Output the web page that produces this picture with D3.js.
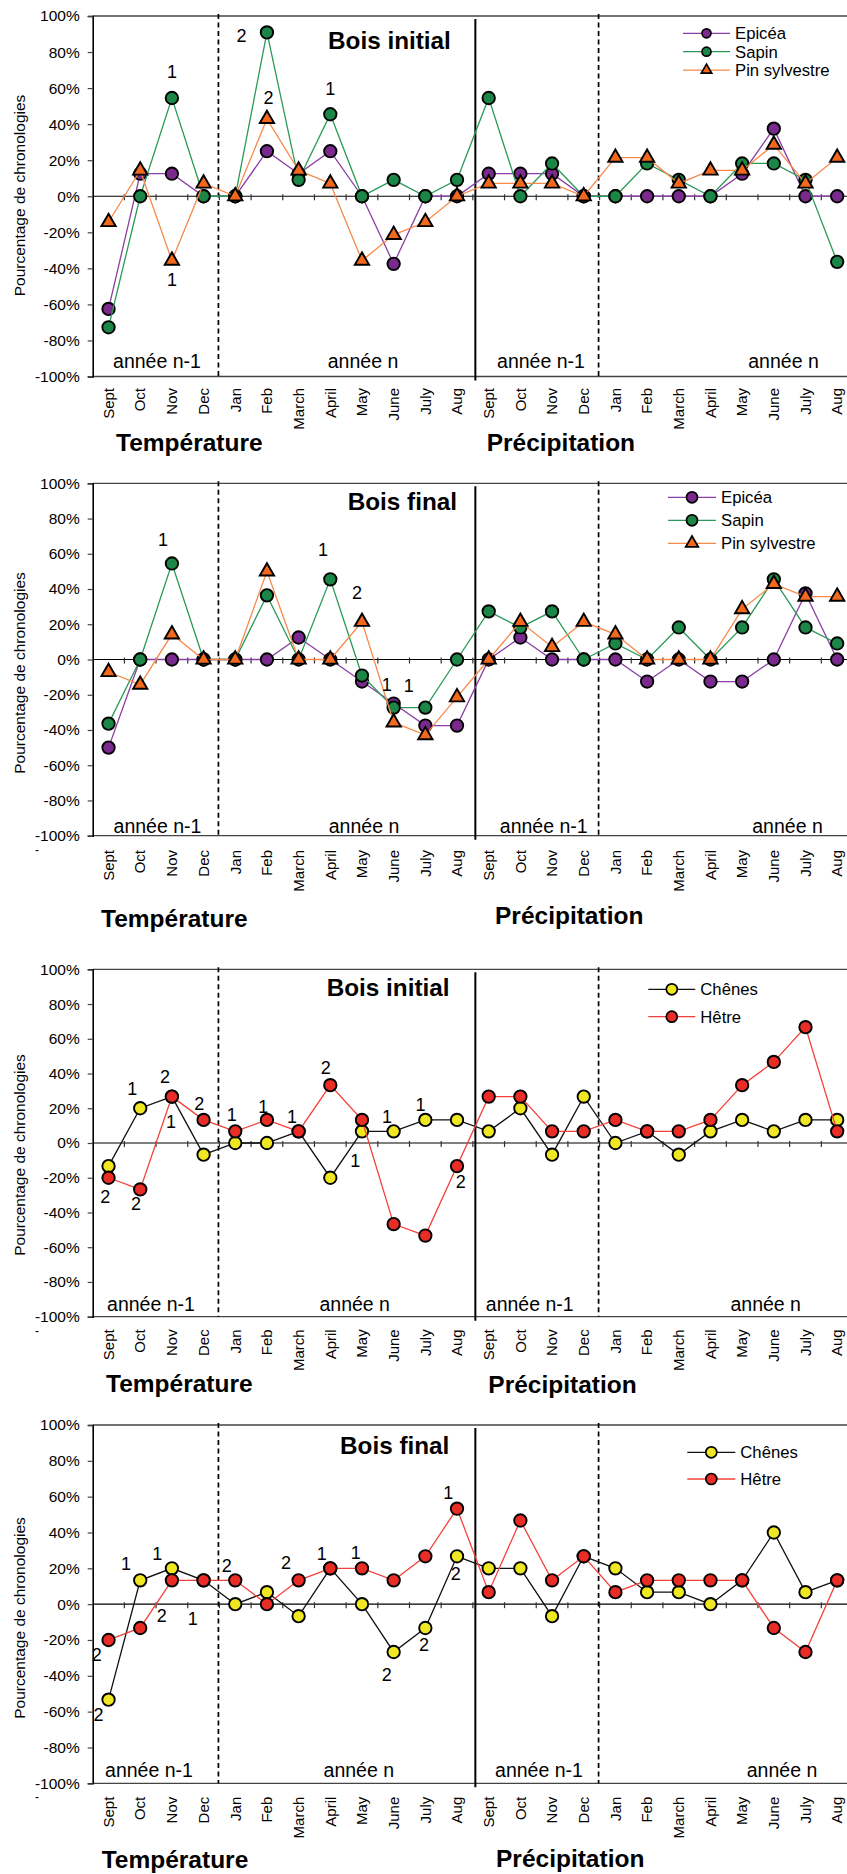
<!DOCTYPE html>
<html>
<head>
<meta charset="utf-8">
<script src="https://cdn.jsdelivr.net/npm/d3@7"></script>
<style>
  body { margin: 0; background: #fff; }
  svg text { font-family: "Liberation Sans", Arial, Helvetica, sans-serif; fill: #000; }
</style>
</head>
<body>
<svg id="chart"></svg>
<script>
// month categories: temperature block then precipitation block
const months = ['Sept', 'Oct', 'Nov', 'Dec', 'Jan', 'Feb', 'March', 'April', 'May', 'June', 'July', 'Aug'];
const categories = months.concat(months);
const yTicks = [-100, -80, -60, -40, -20, 0, 20, 40, 60, 80, 100];
const periods = ['année n-1', 'année n', 'année n-1', 'année n'];

// conifers - bois initial
const epiceaInitial = [-62.5, 12.5, 12.5, 0, 0, 25, 12.5, 25, 0, -37.5, 0, 0,
  12.5, 12.5, 12.5, 0, 0, 0, 0, 0, 12.5, 37.5, 0, 0];
const sapinInitial = [-72.7, 0, 54.5, 0, 0, 90.9, 9.1, 45.5, 0, 9.1, 0, 9.1,
  54.5, 0, 18.2, 0, 0, 18.2, 9.1, 0, 18.2, 18.2, 9.1, -36.4];
const pinInitial = [-14.3, 14.3, -35.7, 7.1, 0, 42.9, 14.3, 7.1, -35.7, -21.4, -14.3, 0,
  7.1, 7.1, 7.1, 0, 21.4, 21.4, 7.1, 14.3, 14.3, 28.6, 7.1, 21.4];

// conifers - bois final
const epiceaFinal = [-50, 0, 0, 0, 0, 0, 12.5, 0, -12.5, -25, -37.5, -37.5,
  0, 12.5, 0, 0, 0, -12.5, 0, -12.5, -12.5, 0, 37.5, 0];
const sapinFinal = [-36.4, 0, 54.5, 0, 0, 36.4, 0, 45.5, -9.1, -27.3, -27.3, 0,
  27.3, 18.2, 27.3, 0, 9.1, 0, 18.2, 0, 18.2, 45.5, 18.2, 9.1];
const pinFinal = [-7.1, -14.3, 14.3, 0, 0, 50, 0, 0, 21.4, -35.7, -42.9, -21.4,
  0, 21.4, 7.1, 21.4, 14.3, 0, 0, 0, 28.6, 42.9, 35.7, 35.7];

// broadleaves - bois initial
const chenesInitial = [-13.3, 20, 26.7, -6.7, 0, 0, 6.7, -20, 6.7, 6.7, 13.3, 13.3,
  6.7, 20, -6.7, 26.7, 0, 6.7, -6.7, 6.7, 13.3, 6.7, 13.3, 13.3];
const hetreInitial = [-20, -26.7, 26.7, 13.3, 6.7, 13.3, 6.7, 33.3, 13.3, -46.7, -53.3, -13.3,
  26.7, 26.7, 6.7, 6.7, 13.3, 6.7, 6.7, 13.3, 33.3, 46.7, 66.7, 6.7];

// broadleaves - bois final
const chenesFinal = [-53.3, 13.3, 20, 13.3, 0, 6.7, -6.7, 20, 0, -26.7, -13.3, 26.7,
  20, 20, -6.7, 26.7, 20, 6.7, 6.7, 0, 13.3, 40, 6.7, 13.3];
const hetreFinal = [-20, -13.3, 13.3, 13.3, 13.3, 0, 13.3, 20, 20, 13.3, 26.7, 53.3,
  6.7, 46.7, 13.3, 26.7, 6.7, 13.3, 13.3, 13.3, 13.3, -13.3, -26.7, 13.3];

// "1"/"2" notes : [month index, value (%), label]
const notesInitialConif = [[2, 69, '1'], [2, -46, '1'], [4.2, 89, '2'], [5.05, 55, '2'], [7, 60, '1']];
const notesFinalConif = [[1.72, 68, '1'], [6.77, 62.5, '1'], [7.84, 38, '2'], [8.78, -14, '1'], [9.48, -14.6, '1']];
const notesInitialBroad = [[-0.1, -30.7, '2'], [0.75, 31.3, '1'], [0.87, -34.9, '2'], [1.78, 38, '2'],
  [1.97, 12.1, '1'], [2.86, 23, '2'], [3.89, 16.5, '1'], [4.88, 21.1, '1'], [5.79, 15.4, '1'],
  [6.86, 43.2, '2'], [7.79, -10, '1'], [8.79, 15.4, '1'], [9.85, 22.1, '1'], [11.12, -21.9, '2']];
const notesFinalBroad = [[-0.37, -28.3, '2'], [-0.32, -61.4, '2'], [0.55, 22.5, '1'], [1.54, 28.5, '1'],
  [1.68, -6.5, '2'], [2.66, -7.8, '1'], [3.73, 21.5, '2'], [5.6, 23.2, '2'], [6.73, 28.5, '1'],
  [7.8, 28.8, '1'], [8.78, -39.1, '2'], [9.96, -22.3, '2'], [10.72, 62.3, '1'], [10.96, 17.3, '2']];

// series styles
const styles = {
  'Epicéa': {line: '#8a3fa6', fill: '#7a2a8c', shape: 'circle'},
  'Sapin': {line: '#2b9a58', fill: '#1b8645', shape: 'circle'},
  'Pin sylvestre': {line: '#f7894a', fill: '#f2691e', shape: 'triangle'},
  'Chênes': {line: '#111111', fill: '#eee722', shape: 'circle'},
  'Hêtre': {line: '#f4403a', fill: '#ea2c26', shape: 'circle'}
};

const W = 847, H = 1874;

const panels = [
  {title: 'Bois initial', top: 16, bottom: 376.5, titleX: 328, titleY: 49,
    series: [['Epicéa', epiceaInitial], ['Sapin', sapinInitial], ['Pin sylvestre', pinInitial]],
    notes: notesInitialConif,
    legend: {x: 683, y: 33.3, dy: 18.4, r: 4.5, w: 47},
    anneeY: 368, anneeX: [157, 363, 541, 783.5], monthY: 388,
    labelY: [451, 451], labelX: [116, 486.7], ylabY: 195.5, dash: false},
  {title: 'Bois final', top: 483.3, bottom: 835.7, titleX: 347.7, titleY: 510,
    series: [['Epicéa', epiceaFinal], ['Sapin', sapinFinal], ['Pin sylvestre', pinFinal]],
    notes: notesFinalConif,
    legend: {x: 668, y: 497.3, dy: 23, r: 5.5, w: 48},
    anneeY: 832.5, anneeX: [157.5, 364, 543.7, 787.5], monthY: 850,
    labelY: [926.7, 924], labelX: [101, 495], ylabY: 673, dash: true},
  {title: 'Bois initial', top: 969.3, bottom: 1316.7, titleX: 326.7, titleY: 996,
    series: [['Chênes', chenesInitial], ['Hêtre', hetreInitial]],
    notes: notesInitialBroad,
    legend: {x: 648.3, y: 989.3, dy: 27.4, r: 5.5, w: 47},
    anneeY: 1311, anneeX: [151, 354.7, 529.7, 765.7], monthY: 1329.3,
    labelY: [1391.7, 1393.3], labelX: [106, 488.3], ylabY: 1155, dash: true},
  {title: 'Bois final', top: 1425, bottom: 1783.3, titleX: 340, titleY: 1454,
    series: [['Chênes', chenesFinal], ['Hêtre', hetreFinal]],
    notes: notesFinalBroad,
    legend: {x: 687.3, y: 1452.3, dy: 26.7, r: 5.5, w: 48},
    anneeY: 1776.7, anneeX: [149, 358.8, 539, 782], monthY: 1796.7,
    labelY: [1867.5, 1866.7], labelX: [101.7, 496], ylabY: 1618, dash: true}
];

const svg = d3.select('#chart')
  .attr('width', W)
  .attr('height', H);

svg.append('rect').attr('width', W).attr('height', H).attr('fill', '#fff');

// shared x scale
const step = 31.68;
const x0 = 92.7;
const x = d3.scaleBand().domain(d3.range(categories.length)).range([x0, x0 + step * categories.length]);
const bw = x.bandwidth();
const xc = d3.scaleLinear().domain([0, 23]).range([x(0) + bw / 2, x(23) + bw / 2]);

const drawMarker = (g, shape, cx, cy, fill, r, sw) => {
  if (shape === 'triangle') {
    g.append('path')
      .attr('d', d3.symbol().type(d3.symbolTriangle).size(r * r * 2.3)())
      .attr('transform', `translate(${cx},${cy})`)
      .attr('fill', fill)
      .attr('stroke', '#000')
      .attr('stroke-width', sw)
      .attr('stroke-linejoin', 'miter');
  } else {
    g.append('circle')
      .attr('cx', cx).attr('cy', cy).attr('r', r)
      .attr('fill', fill)
      .attr('stroke', '#000')
      .attr('stroke-width', sw);
  }
};

panels.forEach(p => {
  const y = d3.scaleLinear().domain([-100, 100]).range([p.bottom, p.top]);
  const g = svg.append('g');

  // top and bottom border
  [100, -100].forEach(v => {
    g.append('line')
      .attr('x1', x0).attr('x2', W)
      .attr('y1', y(v)).attr('y2', y(v))
      .attr('stroke', '#444').attr('stroke-width', 1.3);
  });

  // y axis
  const yAxis = g.append('g')
    .attr('transform', `translate(${x0},0)`)
    .call(d3.axisLeft(y).tickValues(yTicks).tickFormat(d => d + '%').tickSize(5).tickPadding(8));
  yAxis.select('.domain').attr('stroke', '#000').attr('stroke-width', 1.6);
  yAxis.selectAll('.tick line').attr('stroke', '#444').attr('stroke-width', 1.2);
  yAxis.selectAll('.tick text')
    .attr('font-size', '15.5px')
    .attr('font-family', '"Liberation Sans", Arial, sans-serif');

  // zero line with month ticks
  g.append('line')
    .attr('x1', x0).attr('x2', W)
    .attr('y1', y(0)).attr('y2', y(0))
    .attr('stroke', '#000').attr('stroke-width', 1.2);
  g.append('g')
    .selectAll('line')
    .data(d3.range(1, categories.length))
    .join('line')
    .attr('x1', i => x(i)).attr('x2', i => x(i))
    .attr('y1', y(0) - 2).attr('y2', y(0) + 4)
    .attr('stroke', '#333').attr('stroke-width', 1.2);

  // separators
  g.append('line')
    .attr('x1', x(12) + 2.5).attr('x2', x(12) + 2.5)
    .attr('y1', p.top + 3).attr('y2', p.bottom + 4)
    .attr('stroke', '#000').attr('stroke-width', 2);
  [4, 16].forEach(i => {
    g.append('line')
      .attr('x1', x(i) - 1).attr('x2', x(i) - 1)
      .attr('y1', p.top - 2).attr('y2', p.bottom)
      .attr('stroke', '#000').attr('stroke-width', 1.7)
      .attr('stroke-dasharray', '5,3.5');
  });

  // period labels
  g.append('g')
    .selectAll('text')
    .data(periods)
    .join('text')
    .attr('x', (d, i) => p.anneeX[i])
    .attr('y', p.anneeY)
    .attr('text-anchor', 'middle')
    .attr('font-size', '19.5px')
    .text(d => d);

  // series
  p.series.forEach(([name, values]) => {
    const st = styles[name];
    const line = d3.line()
      .x((d, i) => xc(i))
      .y(d => y(d));
    g.append('path')
      .datum(values)
      .attr('d', line)
      .attr('fill', 'none')
      .attr('stroke', st.line)
      .attr('stroke-width', 1.3);
    const mk = g.append('g');
    values.forEach((v, i) => drawMarker(mk, st.shape, xc(i), y(v), st.fill, 6.2, 1.9));
  });

  // notes
  g.append('g')
    .selectAll('text')
    .data(p.notes)
    .join('text')
    .attr('x', d => xc(d[0]))
    .attr('y', d => y(d[1]))
    .attr('dy', '0.36em')
    .attr('text-anchor', 'middle')
    .attr('font-size', '18px')
    .text(d => d[2]);

  // title
  g.append('text')
    .attr('x', p.titleX).attr('y', p.titleY)
    .attr('font-size', '24.3px')
    .attr('font-weight', 'bold')
    .text(p.title);

  // legend
  const lg = g.append('g');
  p.series.forEach(([name], k) => {
    const st = styles[name];
    const ly = p.legend.y + k * p.legend.dy;
    lg.append('line')
      .attr('x1', p.legend.x).attr('x2', p.legend.x + p.legend.w)
      .attr('y1', ly).attr('y2', ly)
      .attr('stroke', st.line).attr('stroke-width', 1.3);
    drawMarker(lg, st.shape, p.legend.x + p.legend.w / 2, ly, st.fill, p.legend.r, 1.7);
    lg.append('text')
      .attr('x', p.legend.x + p.legend.w + 5)
      .attr('y', ly)
      .attr('dy', '0.36em')
      .attr('font-size', '16.7px')
      .text(name);
  });

  // month labels
  g.append('g')
    .selectAll('text')
    .data(categories)
    .join('text')
    .attr('transform', (d, i) => `translate(${xc(i)},${p.monthY}) rotate(-90)`)
    .attr('text-anchor', 'end')
    .attr('dy', '0.35em')
    .attr('font-size', '15px')
    .text(d => d);

  // axis title
  g.append('text')
    .attr('transform', `translate(20,${p.ylabY}) rotate(-90)`)
    .attr('text-anchor', 'middle')
    .attr('dy', '0.35em')
    .attr('font-size', '15.5px')
    .text('Pourcentage de chronologies');

  // Température / Précipitation
  ['Température', 'Précipitation'].forEach((t, i) => {
    g.append('text')
      .attr('x', p.labelX[i]).attr('y', p.labelY[i])
      .attr('font-size', '24.5px')
      .attr('font-weight', 'bold')
      .text(t);
  });

  // stray dash under the axis
  if (p.dash) {
    g.append('text')
      .attr('x', 37).attr('y', p.bottom + 18)
      .attr('text-anchor', 'middle')
      .attr('font-size', '12px')
      .text('-');
  }
});
</script>
</body>
</html>
